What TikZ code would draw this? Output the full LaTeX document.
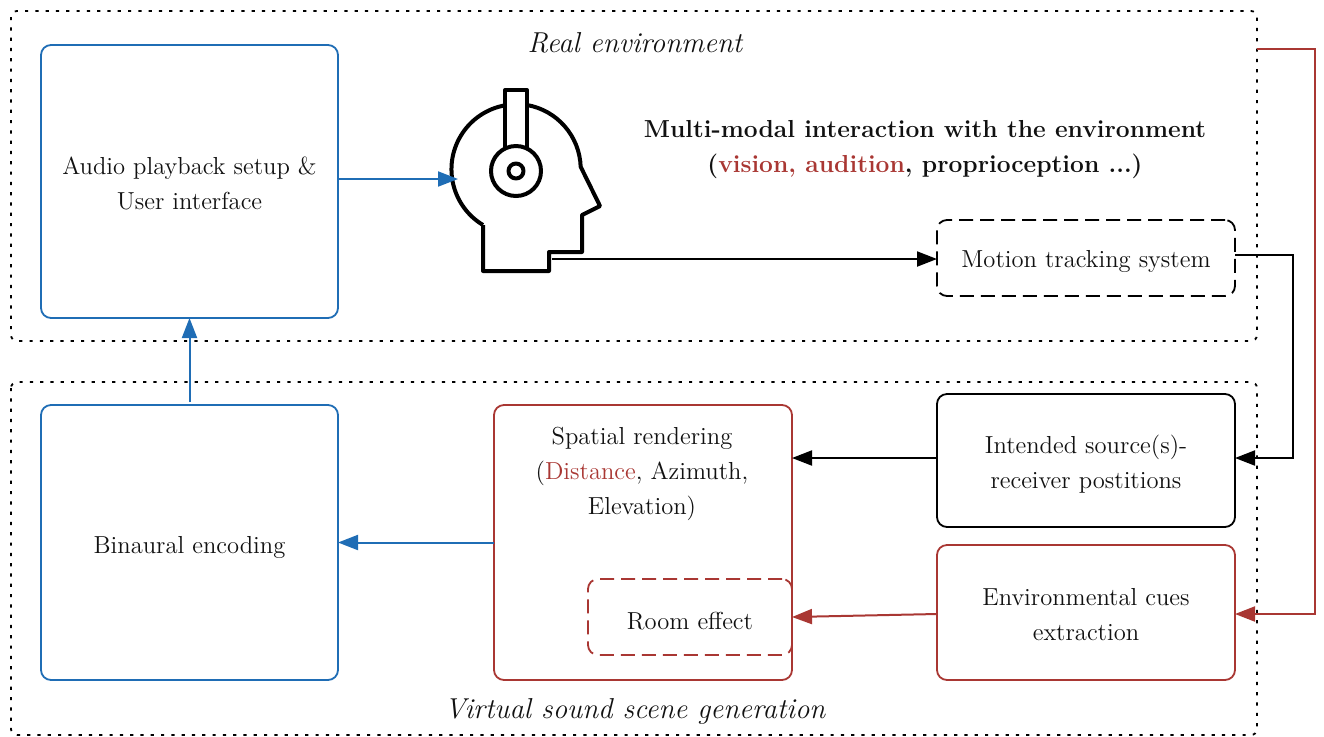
\documentclass[tikz,border=0pt]{standalone}
\usepackage{xcolor}
\usepackage{tikz}
\usetikzlibrary{arrows.meta}
\definecolor{ink}{HTML}{111111}
\definecolor{blueline}{HTML}{1F6DB5}
\definecolor{redline}{HTML}{A93733}
\newcommand{\dropText}[1]{\rule{0pt}{#1}}
\tikzset{
  envBox/.style={draw=black, rounded corners=3pt, line width=0.9pt, dash pattern=on 1.6pt off 3.55pt},
  block/.style={rounded corners=5pt, line width=0.9pt, text=ink, align=center, inner sep=0pt, outer sep=0pt,
    font=\fontsize{12.3}{17.5}\selectfont},
  blueBlock/.style={block, draw=blueline},
  redBlock/.style={block, draw=redline},
  blackBlock/.style={block, draw=black},
  dashBlock/.style={dash pattern=on 7pt off 3.5pt},
  blueArr/.style={-{Triangle[length=10pt,width=7.5pt]}, draw=blueline, line width=1pt},
  redArr/.style={-{Triangle[length=10pt,width=7.5pt]}, draw=redline, line width=1pt},
  blackArr/.style={-{Triangle[length=10pt,width=7.5pt]}, draw=black, line width=1pt},
  envLab/.style={text=ink, font=\fontsize{14.4}{17}\selectfont\itshape},
  headLine/.style={draw=black, line width=2pt, line join=round}
}

\begin{document}
\begin{tikzpicture}[x=0.5pt, y=-0.5pt]
  \useasboundingbox (0,0) rectangle (1324,736);

  % environments
  \draw[envBox] (11,11) rectangle (1257,341);
  \draw[envBox] (11,382) rectangle (1257,735);
  \node[envLab] (realLab) at (635,43) {Real environment};
  \node[envLab] (virtLab) at (635,711) {Virtual sound scene generation};

  % blocks
  \node[blueBlock, minimum width=148.5pt, minimum height=136.5pt] (audio) at (189.5,181.5) {\dropText{10.5pt}Audio playback setup \&\\User interface};
  \node[blueBlock, minimum width=148.5pt, minimum height=137.5pt] (binaural) at (189.5,542.5) {\dropText{13.5pt}Binaural encoding};
  \node[redBlock, minimum width=149pt, minimum height=137.5pt] (spatial) at (643,542.5) {};
  \node[text=ink, align=center, font=\fontsize{12.3}{17.5}\selectfont] (spatialLab) at (642,473.5) {Spatial rendering\\(\textcolor{redline}{Distance}, Azimuth,\\Elevation)};
  \node[redBlock, dashBlock, minimum width=102pt, minimum height=38pt] (room) at (690,617) {\dropText{12.5pt}Room effect};
  \node[blackBlock, dashBlock, minimum width=149pt, minimum height=38pt] (motion) at (1086,258) {\dropText{12.5pt}Motion tracking system};
  \node[blackBlock, minimum width=149pt, minimum height=66.5pt] (intended) at (1086,460.5) {\dropText{13pt}Intended source(s)-\\receiver postitions};
  \node[redBlock, minimum width=149pt, minimum height=67.5pt] (cues) at (1086,612.5) {\dropText{10.5pt}Environmental cues\\extraction};

  % caption of the head
  \node[text=ink, align=center, font=\fontsize{12.3}{17.5}\selectfont\bfseries] (modal) at (925,149.5) {Multi-modal interaction with the environment\\(\textcolor{redline}{vision, audition}, proprioception ...)};

  % head
  \draw[headLine] (483,225) arc (121:260.4:65);
  \draw[headLine] (527,105) arc (-80:-2:65)
    -- (600,206) -- (582,215) -- (582,252) -- (549,252) -- (549,271) -- (483,271) -- (483,225);
  \draw[headLine, fill=white] (505,90) rectangle (527,148);
  \draw[headLine, fill=white] (516,171) circle (25);
  \draw[headLine] (516,171) circle (7.5);

  % free ends
  \coordinate (earIn) at (458,179);
  \coordinate (neckOut) at (552,259);
  \coordinate (realTap) at (1257,49);

  % connectors
  \draw[blueArr] (audio.east |- earIn) -- (earIn);
  \draw[blackArr] (neckOut) -- (neckOut -| motion.west);
  \draw[blackArr] ([yshift=1.5pt]motion.east) -| (1293,458) -- ([yshift=1.25pt]intended.east);
  \draw[blackArr] ([yshift=1.25pt]intended.west) -- ([yshift=1.25pt]intended.west -| spatial.east);
  \draw[redArr] (realTap) -| (1315,614) -- (cues.east |- 0,614);
  \draw[redArr] ([yshift=-0.75pt]cues.west) -- (room.east);
  \draw[blueArr] (spatial.west) -- (binaural.east);
  \draw[blueArr] ([yshift=1.5pt]binaural.north) -- (audio.south);
\end{tikzpicture}
\end{document}
